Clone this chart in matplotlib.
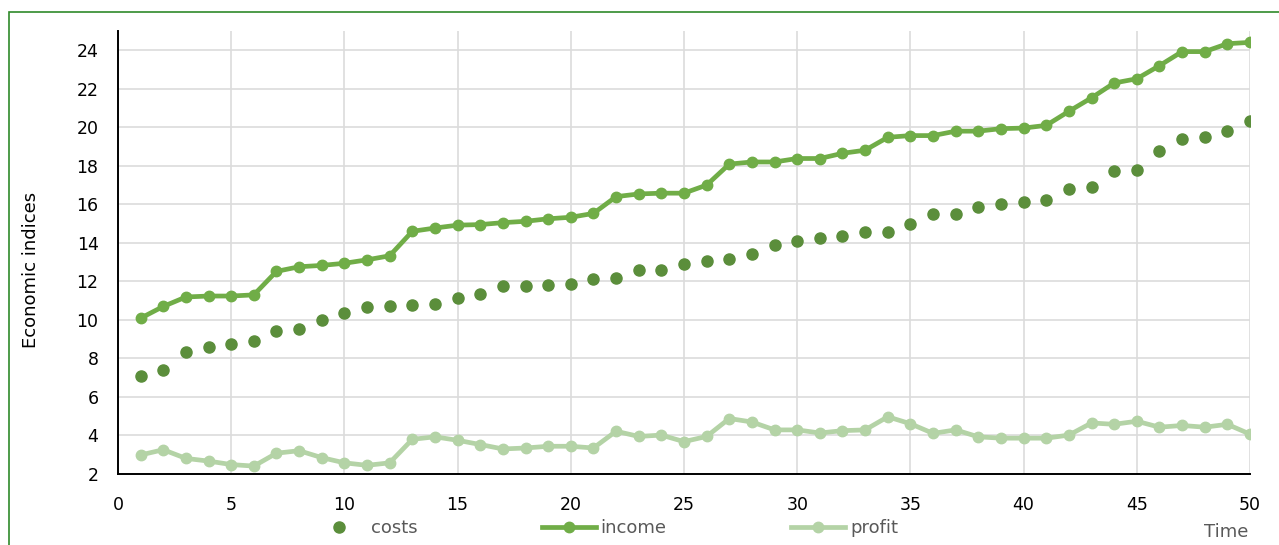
import matplotlib
matplotlib.use("Agg")
import matplotlib.pyplot as plt
from matplotlib.patches import Rectangle

# values
time = list(range(1, 51))
costs = [7.08, 7.41, 8.36, 8.58, 8.76, 8.90, 9.42, 9.51, 10.00, 10.34,
         10.67, 10.74, 10.76, 10.85, 11.15, 11.37, 11.75, 11.75, 11.82, 11.89,
         12.13, 12.18, 12.58, 12.60, 12.88, 13.05, 13.17, 13.42, 13.87, 14.09,
         14.27, 14.34, 14.54, 14.54, 14.97, 15.48, 15.51, 15.86, 16.04, 16.11,
         16.22, 16.81, 16.90, 17.73, 17.78, 18.76, 19.39, 19.51, 19.80, 20.32]
income = [10.09, 10.70, 11.19, 11.24, 11.24, 11.30, 12.52, 12.76, 12.83, 12.94,
          13.12, 13.33, 14.60, 14.77, 14.92, 14.95, 15.05, 15.12, 15.25, 15.33,
          15.53, 16.40, 16.54, 16.58, 16.58, 17.00, 18.09, 18.20, 18.20, 18.38,
          18.38, 18.65, 18.81, 19.48, 19.57, 19.57, 19.80, 19.80, 19.93, 19.96,
          20.10, 20.83, 21.53, 22.30, 22.52, 23.20, 23.93, 23.93, 24.34, 24.41]
profit = [2.99, 3.26, 2.81, 2.67, 2.49, 2.41, 3.08, 3.21, 2.85, 2.58,
          2.45, 2.58, 3.80, 3.93, 3.75, 3.53, 3.30, 3.35, 3.44, 3.44,
          3.35, 4.22, 3.95, 4.02, 3.68, 3.95, 4.88, 4.70, 4.29, 4.29,
          4.13, 4.25, 4.29, 4.97, 4.61, 4.11, 4.29, 3.93, 3.86, 3.86,
          3.86, 4.02, 4.65, 4.58, 4.74, 4.43, 4.52, 4.43, 4.58, 4.07]
x_ticks = list(range(0, 51, 5))
y_ticks = list(range(2, 25, 2))

fig = plt.figure(figsize=(12.79, 5.45), dpi=100)
ax = fig.add_axes([118/1279, 1 - 474/545, 1132/1279, 443/545])

ax.plot(time, costs, linestyle='none', marker='o', markersize=8,
        color='#5B8E3B', label='costs', zorder=3)
ax.plot(time, income, marker='o', markersize=7.5, linewidth=3.4,
        color='#70AD47', label='income', zorder=4)
ax.plot(time, profit, marker='o', markersize=7.5, linewidth=3.4,
        color='#B4D3A6', label='profit', zorder=3)

ax.set_xlim(0, 50)
ax.set_ylim(2, 25)
ax.set_xticks(x_ticks)
ax.set_yticks(y_ticks)
ax.grid(True, color='#DCDCDC', linewidth=1.2)
ax.set_axisbelow(True)
ax.tick_params(length=0, labelsize=12.5, colors='black')
ax.tick_params(axis='y', pad=14)
ax.tick_params(axis='x', pad=16)
for s in ['top', 'right']:
    ax.spines[s].set_visible(False)
for s in ['left', 'bottom']:
    ax.spines[s].set_linewidth(1.4)
    ax.spines[s].set_color('black')

fig.text(31/1279, 1 - 270/545, 'Economic indices', rotation=90,
         ha='center', va='center', fontsize=13, color='black')
fig.text(1226/1279, 1 - 532/545, 'Time', ha='center', va='center',
         fontsize=13, color='#595959')

leg = fig.legend(loc='center', bbox_to_anchor=(605/1279, 1 - 528/545), ncol=3,
                 frameon=False, fontsize=13, handlelength=3.0,
                 handletextpad=0.25, columnspacing=6.9, labelcolor='#595959')

# green frame around the chart
fig.patches.append(Rectangle((9/1279, -0.1), 1.2, 1 - 11.5/545 + 0.1,
                             transform=fig.transFigure, fill=False,
                             edgecolor='#2F8A2A', linewidth=1.2))

fig.savefig('out.png', dpi=100)
